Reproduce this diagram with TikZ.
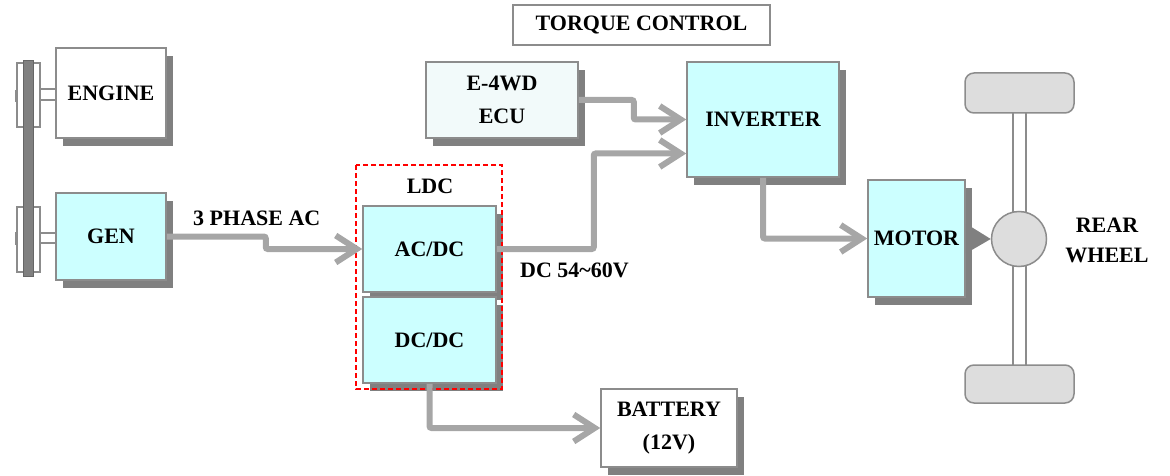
\documentclass[tikz,border=0pt]{standalone}
\usepackage{fontspec}
\setmainfont{Liberation Serif}
\usetikzlibrary{arrows.meta,shadows}
\definecolor{boxcyan}{HTML}{CCFFFF}
\definecolor{ecufill}{HTML}{F2FAFA}
\definecolor{edgegray}{HTML}{8C8C8C}
\definecolor{shadowgray}{HTML}{808080}
\definecolor{flowgray}{HTML}{A6A6A6}
\definecolor{wheelgray}{HTML}{DDDDDD}
\begin{document}
\begin{tikzpicture}[x=1pt, y=-1pt,
    block/.style = {draw=edgegray, line width=1.5pt, fill=boxcyan, align=center, inner sep=0,
                    font=\fontsize{22}{33}\selectfont\bfseries,
                    drop shadow={shadow xshift=7pt, shadow yshift=-8pt, fill=shadowgray, opacity=1}},
    flow/.style  = {draw=flowgray, line width=6pt, rounded corners=2pt,
                    -{Straight Barb[length=21pt, width=27pt]}},
    tag/.style   = {font=\fontsize{22}{30}\selectfont\bfseries, align=center, inner sep=0},
    part/.style  = {draw=edgegray, line width=1.5pt}]
    \useasboundingbox (0,0) rectangle (1170,476);

    % belt drive
    \draw[part, fill=white] (17,63) rectangle (40,127);
    \draw[part, fill=white] (17,207) rectangle (40,272);
    \draw[part, fill=white] (40,89) rectangle (56,100);
    \draw[part, fill=white] (40,233) rectangle (56,243);
    \draw[part] (16,90) -- (16,102);
    \draw[part] (16,232) -- (16,245);
    \draw[draw=shadowgray!80!black, line width=1pt, fill=shadowgray] (23,61) rectangle (33,276);

    \node[block, fill=white, minimum width=110pt, minimum height=90pt]  (engine)  at (111,93)    {ENGINE};
    \node[block, minimum width=110pt, minimum height=87pt]              (gen)     at (111,236.5) {GEN};
    \node[block, fill=ecufill, minimum width=152pt, minimum height=76pt] (ecu)    at (502,100)   {E-4WD\\ECU};
    \node[block, minimum width=152pt, minimum height=115pt]             (inverter) at (763,119.5) {INVERTER};
    \node[block, minimum width=133pt, minimum height=86pt]              (acdc)    at (429.5,249) {AC/DC};
    \node[block, minimum width=133pt, minimum height=86pt]              (dcdc)    at (429.5,340) {DC/DC};
    \node[block, minimum width=97pt, minimum height=117pt]              (motor)   at (916.5,238.5) {MOTOR};
    \node[block, fill=white, minimum width=136pt, minimum height=78pt]  (battery) at (669,428)   {BATTERY\\(12V)};
    \node[draw=edgegray, line width=1.5pt, minimum width=257pt, minimum height=40pt, inner sep=0,
          font=\fontsize{22}{30}\selectfont\bfseries] (torque) at (641.5,25) {TORQUE CONTROL};

    % LDC frame
    \draw[red, line width=1.5pt, dash pattern=on 5pt off 3pt] (356,165) rectangle (502,389);
    \node[tag] (ldc) at (430,186) {LDC};

    % rear axle
    \draw[part, fill=white] (1013,110) rectangle (1026,368);
    \node[part, fill=wheelgray, rounded corners=9pt, minimum width=109pt, minimum height=40pt] (wheeltop) at (1019.5,93) {};
    \node[part, fill=wheelgray, rounded corners=9pt, minimum width=109pt, minimum height=38pt] (wheelbot) at (1019.5,384) {};
    \node[part, fill=wheelgray, circle, minimum size=55pt, inner sep=0] (hub) at (1019,239) {};
    \fill[shadowgray] ([yshift=15pt]motor.east) -- (hub.west) -- ([yshift=-15pt]motor.east) -- cycle;
    \node[tag] (rear) at (1107,240) {REAR\\WHEEL};

    % connectors
    \draw[flow] (gen.east) -- ++(99,0) |- (acdc.west);
    \draw[flow] (acdc.east) -- ++(97,0) |- ([yshift=-34pt]inverter.west);
    \draw[flow] (ecu.east) -- ++(55,0) |- (inverter.west);
    \draw[flow] (inverter.south) |- (motor.west);
    \draw[flow] (dcdc.south) |- (battery.west);

    \node[tag, anchor=west] (ac)  at (193,218) {3 PHASE AC};
    \node[tag, anchor=west] (vdc) at (520,270) {DC 54\textasciitilde60V};
  \end{tikzpicture}
\end{document}
